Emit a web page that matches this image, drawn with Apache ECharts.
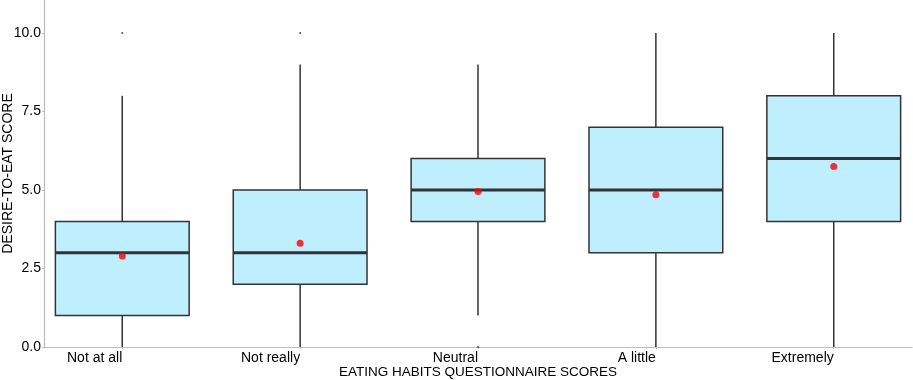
<!DOCTYPE html>
<html>
<head>
<meta charset="utf-8">
<script src="https://cdn.jsdelivr.net/npm/echarts@6/dist/echarts.min.js"></script>
<style>
  html, body { margin: 0; padding: 0; background: #fff; }
  #chart { width: 913px; height: 380px; }
</style>
</head>
<body>
<div id="chart"></div>
<script>
// categories of the questionnaire
var categories = ["Not at all", "Not really", "Neutral", "A little", "Extremely"];
// box stats: whisker low, Q1, median, Q3, whisker high
var whiskerLow = [0, 0, 1, 0, 0];
var q1 = [1, 2, 4, 3, 4];
var median = [3, 3, 5, 5, 6];
var q3 = [4, 5, 6, 7, 8];
var whiskerHigh = [8, 9, 9, 10, 10];
// mean (red dots)
var means = [2.9, 3.3, 4.95, 4.85, 5.75];
// outliers: [category index, value]
var outliers = [[0, 10], [1, 10], [2, 0]];
var yTicks = [0, 2.5, 5, 7.5, 10];

var boxData = categories.map(function (c, i) {
  return [i, whiskerLow[i], q1[i], median[i], q3[i], whiskerHigh[i]];
});
var meanData = means.map(function (m, i) { return [i, m]; });

var font = "Liberation Sans, Arial, sans-serif";
var chart = echarts.init(document.getElementById("chart"));

chart.setOption({
  animation: false,
  grid: { left: 44, right: 1, top: 0, bottom: 33, outerBoundsMode: "none" },
  xAxis: {
    type: "value",
    min: -0.44,
    max: 4.44,
    name: "EATING HABITS QUESTIONNAIRE SCORES",
    nameLocation: "middle",
    nameGap: 18,
    nameMoveOverlap: false,
    nameTextStyle: { color: "#000", fontSize: 13.5, fontFamily: font },
    axisLine: { onZero: false, lineStyle: { color: "#bdbdbd", width: 1.2 } },
    axisTick: { show: true, length: 2, customValues: [0, 1, 2, 3, 4], lineStyle: { color: "#bdbdbd" } },
    axisLabel: {
      customValues: [0, 1, 2, 3, 4],
      align: "right",
      margin: 4,
      color: "#000",
      fontSize: 14,
      fontFamily: font,
      formatter: function (v) { return categories[Math.round(v)]; }
    },
    splitLine: { show: false }
  },
  yAxis: {
    type: "value",
    min: 0,
    max: 11.05,
    name: "DESIRE-TO-EAT SCORE",
    nameLocation: "middle",
    nameGap: 29,
    nameMoveOverlap: false,
    nameTextStyle: { color: "#000", fontSize: 14, fontFamily: font },
    axisLine: { show: true, onZero: false, lineStyle: { color: "#bdbdbd", width: 1.2 } },
    axisTick: { show: true, length: 2, customValues: yTicks, lineStyle: { color: "#bdbdbd" } },
    axisLabel: {
      customValues: yTicks,
      margin: 3,
      color: "#000",
      fontSize: 14,
      fontFamily: font,
      formatter: function (v) { return v.toFixed(1); }
    },
    splitLine: { show: false }
  },
  series: [
    {
      // boxes drawn ggplot style: no whisker caps, thick median
      type: "custom",
      data: boxData,
      encode: { x: 0, y: [1, 2, 3, 4, 5] },
      renderItem: function (params, api) {
        var x = api.value(0);
        var half = api.size([1, 0])[0] * 0.376;
        var lo = api.coord([x, api.value(1)]);
        var b1 = api.coord([x, api.value(2)]);
        var md = api.coord([x, api.value(3)]);
        var b3 = api.coord([x, api.value(4)]);
        var hi = api.coord([x, api.value(5)]);
        var lineStyle = { stroke: "#333", lineWidth: 1.5 };
        return {
          type: "group",
          children: [
            { type: "line", shape: { x1: lo[0], y1: lo[1], x2: b1[0], y2: b1[1] }, style: lineStyle },
            { type: "line", shape: { x1: b3[0], y1: b3[1], x2: hi[0], y2: hi[1] }, style: lineStyle },
            {
              type: "rect",
              shape: { x: b3[0] - half, y: b3[1], width: half * 2, height: b1[1] - b3[1] },
              style: { fill: "#BFEFFF", stroke: "#333", lineWidth: 1.5 }
            },
            { type: "line", shape: { x1: md[0] - half, y1: md[1], x2: md[0] + half, y2: md[1] }, style: { stroke: "#333", lineWidth: 3 } }
          ]
        };
      },
      z: 2
    },
    {
      type: "scatter",
      data: outliers,
      symbol: "circle",
      symbolSize: 2,
      itemStyle: { color: "#222" },
      z: 3
    },
    {
      type: "scatter",
      data: meanData,
      symbol: "circle",
      symbolSize: 7,
      itemStyle: { color: "#ff0000" },
      z: 4
    }
  ]
});
</script>
</body>
</html>
